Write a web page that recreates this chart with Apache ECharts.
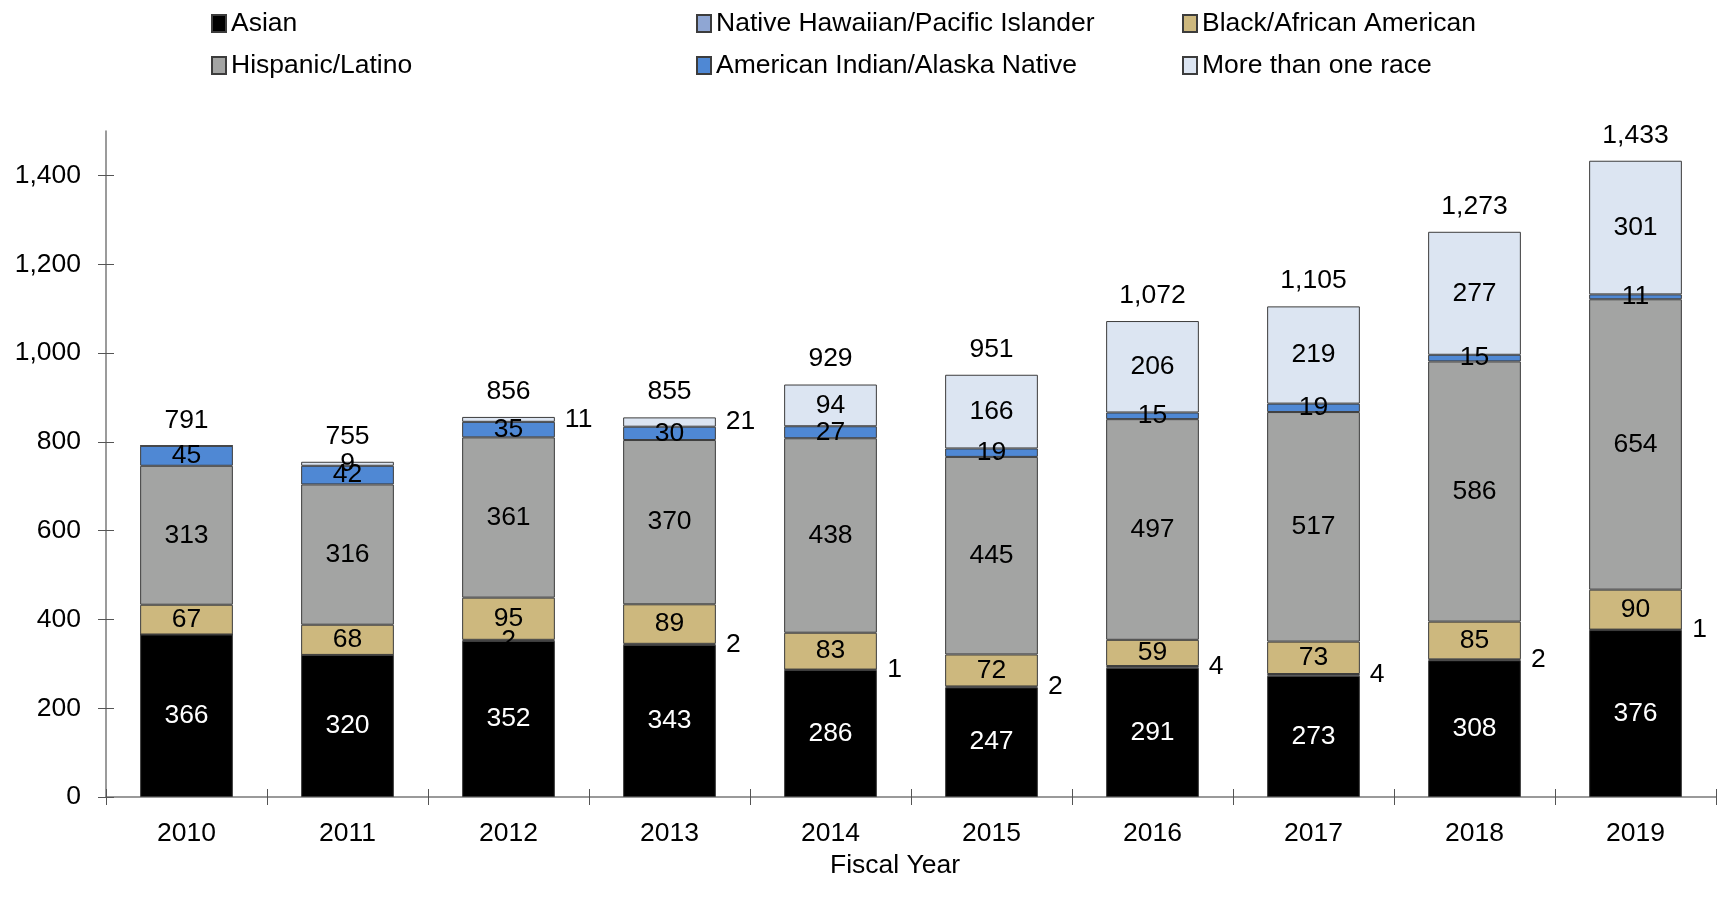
<!DOCTYPE html>
<html><head><meta charset="utf-8">
<script src="https://cdn.jsdelivr.net/npm/echarts@6/dist/echarts.min.js"></script>
<style>html,body{margin:0;padding:0;background:#fff}#c{width:1730px;height:906px}</style>
</head><body><div id="c"></div>
<script>
// ---- data ----
const years    = ['2010','2011','2012','2013','2014','2015','2016','2017','2018','2019'];
const asian    = [366, 320, 352, 343, 286, 247, 291, 273, 308, 376];
const nhpi     = [0, 0, 2, 2, 1, 2, 4, 4, 2, 1];
const black    = [67, 68, 95, 89, 83, 72, 59, 73, 85, 90];
const hispanic = [313, 316, 361, 370, 438, 445, 497, 517, 586, 654];
const aian     = [45, 42, 35, 30, 27, 19, 15, 19, 15, 11];
const multi    = [0, 9, 11, 21, 94, 166, 206, 219, 277, 301];
const yTicks   = [0, 200, 400, 600, 800, 1000, 1200, 1400];

const names = ['Asian','Native Hawaiian/Pacific Islander','Black/African American','Hispanic/Latino','American Indian/Alaska Native','More than one race'];
const colors = ['#000000','#8FA6D3','#CDB87E','#A3A4A3','#4F88D4','#DCE5F2'];
const FONT = "'Liberation Sans', Arial, sans-serif";
const FS = 26.5;

// labels drawn beside the bar for thin segments
const nhpiInside = new Set([2]);
const multiRight = new Set([2,3]);

const totals = years.map((_, i) => asian[i] + nhpi[i] + black[i] + hispanic[i] + aian[i] + multi[i]);
const fmtNum = v => v.toLocaleString('en-US');

function mkData(arr, rightFn) {
  return arr.map((v, i) => rightFn && rightFn(i) ? { value: v, label: { position: 'right', distance: 10 } } : v);
}

const seriesArrays = [asian, nhpi, black, hispanic, aian, multi];
const series = seriesArrays.map((arr, k) => {
  let rightFn = null;
  if (k === 1) rightFn = i => !nhpiInside.has(i);
  if (k === 5) rightFn = i => multiRight.has(i);
  return {
    name: names[k], type: 'bar', stack: 'total', barWidth: '57.6%',
    data: mkData(arr, rightFn),
    itemStyle: { color: colors[k], borderColor: '#3c3c3c', borderWidth: 1 },
    label: {
      show: true, position: 'inside', fontFamily: FONT, fontSize: FS,
      color: k === 0 ? '#ffffff' : '#000000',
      formatter: p => (p.value ? fmtNum(p.value) : '')
    },
    emphasis: { disabled: true }
  };
});
series.push({
  name: 'Total', type: 'bar', stack: 'total', barWidth: '57.6%',
  data: years.map(() => 0),
  itemStyle: { color: 'rgba(0,0,0,0)', borderWidth: 0 },
  label: { show: true, position: 'top', distance: 12, fontFamily: FONT, fontSize: FS, color: '#000',
    formatter: p => fmtNum(totals[p.dataIndex]) },
  emphasis: { disabled: true }
});

function legendCol(left, data) {
  return {
    orient: 'vertical', left: left, top: 5, itemWidth: 14, itemHeight: 17, itemGap: 15,
    icon: 'rect', data: data, selectedMode: false,
    textStyle: { fontFamily: FONT, fontSize: FS, color: '#000' }
  };
}

const axisLineStyle = { color: '#7a7a7a', width: 1.5 };
const option = {
  animation: false,
  backgroundColor: '#fff',
  textStyle: { fontFamily: FONT },
  legend: [
    legendCol(206, [names[0], names[3]]),
    legendCol(691, [names[1], names[4]]),
    legendCol(1177, [names[2], names[5]])
  ],
  grid: { left: 106, right: 14, top: 131, bottom: 109 },
  xAxis: [
    { type: 'category', data: years, position: 'bottom',
      axisLine: { show: true, lineStyle: axisLineStyle },
      axisTick: { show: true, length: 8, lineStyle: { color: '#555' } },
      axisLabel: { fontFamily: FONT, fontSize: FS, color: '#000', margin: 23 },
      name: 'Fiscal Year', nameLocation: 'middle', nameGap: 50,
      nameTextStyle: { fontFamily: FONT, fontSize: FS, color: '#000', padding: [0, 32, 0, 0] }
    },
    { type: 'category', data: years, position: 'bottom',
      axisLine: { show: false }, axisLabel: { show: false },
      axisTick: { show: true, inside: true, length: 8, lineStyle: { color: '#555' } } }
  ],
  yAxis: [
    { type: 'value', min: 0, max: 1500, interval: 200, position: 'left',
      axisLine: { show: true, lineStyle: axisLineStyle },
      axisTick: { show: true, length: 8, customValues: yTicks, lineStyle: { color: '#555' } },
      axisLabel: { customValues: yTicks, fontFamily: FONT, fontSize: FS, color: '#000', margin: 25,
        formatter: v => fmtNum(v) },
      splitLine: { show: false } },
    { type: 'value', min: 0, max: 1500, interval: 200, position: 'left',
      axisLine: { show: false }, axisLabel: { show: false }, splitLine: { show: false },
      axisTick: { show: true, inside: true, length: 8, customValues: yTicks, lineStyle: { color: '#555' } } }
  ],
  series: series
};
echarts.init(document.getElementById('c'), null, { renderer: 'canvas' }).setOption(option);
</script>
</body></html>
